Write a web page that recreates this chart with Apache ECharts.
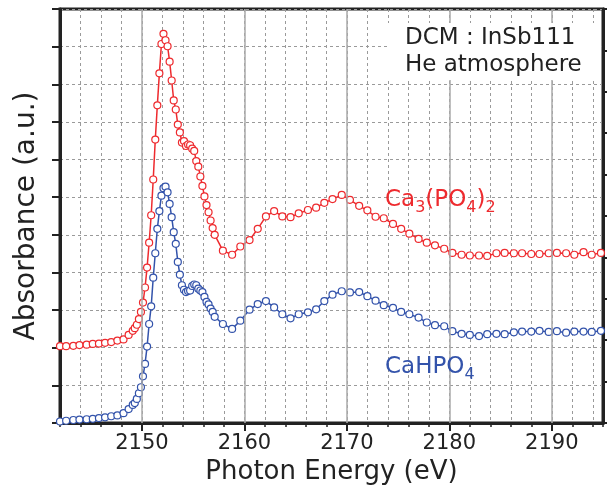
<!DOCTYPE html>
<html>
<head>
<meta charset="utf-8">
<script src="https://cdn.jsdelivr.net/npm/echarts@6/dist/echarts.min.js"></script>
<style>
  html, body { margin: 0; padding: 0; background: #fff; }
  #main { width: 607px; height: 490px; }
</style>
</head>
<body>
<div id="main"></div>
<script>
// photon energy (eV), shared by both spectra
var energy = [
  2142.0, 2142.6, 2143.3, 2143.9, 2144.6, 2145.2, 2145.8, 2146.4, 2147.0, 2147.6, 2148.2, 2148.7,
  2149.1, 2149.3, 2149.5, 2149.7, 2149.9, 2150.1, 2150.3, 2150.5, 2150.7, 2150.9,
  2151.1, 2151.3, 2151.5, 2151.7, 2151.9, 2152.1, 2152.3, 2152.5, 2152.7, 2152.9,
  2153.1, 2153.3, 2153.5, 2153.7, 2153.9, 2154.1, 2154.3, 2154.5, 2154.7, 2154.9,
  2155.1, 2155.3, 2155.5, 2155.7, 2155.9, 2156.1, 2156.3, 2156.5, 2156.7, 2156.9, 2157.1,
  2157.9, 2158.8, 2159.6, 2160.5, 2161.3, 2162.1, 2162.9, 2163.7, 2164.5, 2165.3,
  2166.2, 2167.0, 2167.8, 2168.6, 2169.5, 2170.3, 2171.2, 2172.0, 2172.8, 2173.6,
  2174.5, 2175.3, 2176.1, 2177.0, 2177.8, 2178.6, 2179.5, 2180.3, 2181.2, 2182.0,
  2182.9, 2183.7, 2184.6, 2185.4, 2186.3, 2187.1, 2188.0, 2188.8, 2189.7, 2190.5,
  2191.4, 2192.2, 2193.1, 2193.9, 2194.8
];

// Ca3(PO4)2 (offset upward)
var caPhosphate = [
  2.04, 2.04, 2.05, 2.07, 2.08, 2.10, 2.11, 2.13, 2.15, 2.19, 2.22, 2.34,
  2.45, 2.52, 2.61, 2.76, 2.95, 3.20, 3.60, 4.13, 4.79, 5.52,
  6.47, 7.53, 8.44, 9.29, 10.07, 10.34, 10.17, 10.01, 9.60, 9.10,
  8.57, 8.33, 7.93, 7.72, 7.45, 7.49, 7.36, 7.40, 7.38, 7.29,
  7.23, 6.96, 6.81, 6.55, 6.30, 6.02, 5.79, 5.60, 5.38, 5.18, 5.00,
  4.58, 4.47, 4.69, 4.86, 5.16, 5.49, 5.63, 5.49, 5.47, 5.57,
  5.66, 5.72, 5.85, 5.95, 6.06, 5.93, 5.77, 5.65, 5.48, 5.44,
  5.29, 5.16, 5.03, 4.89, 4.79, 4.72, 4.63, 4.52, 4.47, 4.45,
  4.45, 4.44, 4.51, 4.52, 4.51, 4.51, 4.49, 4.49, 4.51, 4.52,
  4.51, 4.47, 4.54, 4.47, 4.52
];

// CaHPO4
var caHydrogenPhosphate = [
  0.04, 0.06, 0.08, 0.09, 0.10, 0.11, 0.13, 0.15, 0.18, 0.20, 0.26, 0.37,
  0.48, 0.53, 0.64, 0.79, 0.95, 1.24, 1.57, 2.03, 2.63, 3.10,
  3.86, 4.51, 5.16, 5.63, 6.04, 6.24, 6.28, 6.13, 5.82, 5.47,
  5.07, 4.76, 4.28, 3.94, 3.66, 3.54, 3.48, 3.51, 3.52, 3.64,
  3.68, 3.66, 3.57, 3.52, 3.48, 3.35, 3.22, 3.15, 3.04, 2.95, 2.82,
  2.63, 2.50, 2.72, 3.01, 3.16, 3.24, 3.07, 2.89, 2.78, 2.89,
  2.94, 3.02, 3.24, 3.41, 3.50, 3.47, 3.48, 3.37, 3.25, 3.13,
  3.06, 2.95, 2.89, 2.80, 2.67, 2.60, 2.57, 2.44, 2.37, 2.34,
  2.31, 2.36, 2.37, 2.36, 2.41, 2.43, 2.43, 2.45, 2.42, 2.44,
  2.40, 2.43, 2.43, 2.42, 2.45
];

var majorTicks = [2150, 2160, 2170, 2180, 2190];

var RED = '#ee2a2e';
var BLUE = '#3353ab';
var FONT = 'DejaVu Sans';
var INK = '#222';

function pairs(ys) {
  return energy.map(function (e, i) { return [e, ys[i]]; });
}

// chemical formula with subscripts as rich text
function formulaStyle(color) {
  return {
    m: { fontSize: 23, lineHeight: 28, fontFamily: FONT, fill: color, verticalAlign: 'top' },
    s: { fontSize: 16, lineHeight: 16, fontFamily: FONT, fill: color, verticalAlign: 'top', padding: [11, 0, 0, 0] }
  };
}

var chart = echarts.init(document.getElementById('main'));

var option = {
  animation: false,
  backgroundColor: '#fff',
  grid: {
    left: 60, right: 4, top: 9, bottom: 66,
    show: true, borderColor: INK, borderWidth: 3
  },
  xAxis: [
    {
      type: 'value', min: 2142, max: 2195, interval: 2, position: 'bottom',
      axisLine: { show: true, lineStyle: { color: INK, width: 3 } },
      axisTick: { show: true, length: 4, lineStyle: { color: INK, width: 1.5 } },
      axisLabel: {
        margin: 10, fontSize: 21, color: INK, fontFamily: FONT,
        formatter: function (v) { return majorTicks.indexOf(v) >= 0 ? String(v) : ''; }
      },
      splitLine: { show: true, lineStyle: { type: [3, 3], color: '#9a9a9a', width: 1 } },
      name: 'Photon Energy (eV)', nameLocation: 'middle', nameGap: 36,
      nameTextStyle: { fontSize: 26, color: INK, fontFamily: FONT }
    },
    {
      type: 'value', min: 2142, max: 2195, interval: 2, position: 'bottom',
      axisLine: { show: false },
      axisTick: { show: true, customValues: majorTicks, length: 8, lineStyle: { color: INK, width: 2 } },
      axisLabel: { show: false },
      splitLine: { show: false }
    }
  ],
  yAxis: [
    {
      type: 'value', min: 0, max: 11, interval: 1, position: 'left',
      axisLine: { show: true, lineStyle: { color: INK, width: 3 } },
      axisTick: { show: true, length: 8, lineStyle: { color: INK, width: 2 } },
      axisLabel: { show: false },
      splitLine: { show: true, lineStyle: { type: [3, 3], color: '#9a9a9a', width: 1 } },
      name: 'Absorbance (a.u.)', nameLocation: 'middle', nameGap: 19,
      nameTextStyle: { fontSize: 28, color: INK, fontFamily: FONT }
    },
    {
      type: 'value', min: 0, max: 10, interval: 1, position: 'right',
      axisLine: { show: true, lineStyle: { color: INK, width: 3 } },
      axisTick: { show: true, length: 4, lineStyle: { color: INK, width: 2 } },
      axisLabel: { show: false },
      splitLine: { show: false }
    }
  ],
  series: [
    {
      // solid grid lines at the labelled energies
      type: 'line', data: [], z: 1, silent: true,
      markLine: {
        silent: true, symbol: 'none', label: { show: false },
        lineStyle: { type: 'solid', color: '#aaaaaa', width: 1.5 },
        data: majorTicks.map(function (v) { return { xAxis: v }; })
      }
    },
    {
      name: 'CaHPO4', type: 'line', data: pairs(caHydrogenPhosphate),
      showAllSymbol: true, symbol: 'circle', symbolSize: 7,
      itemStyle: { color: '#fff', borderColor: BLUE, borderWidth: 1.2 },
      lineStyle: { color: BLUE, width: 1.5 }, z: 3
    },
    {
      name: 'Ca3(PO4)2', type: 'line', data: pairs(caPhosphate),
      showAllSymbol: true, symbol: 'circle', symbolSize: 7,
      itemStyle: { color: '#fff', borderColor: RED, borderWidth: 1.2 },
      lineStyle: { color: RED, width: 1.5 }, z: 4
    }
  ],
  graphic: [
    {
      type: 'rect', z: 50, silent: true,
      shape: { x: 387, y: 23, width: 214, height: 57 },
      style: { fill: '#fff' }
    },
    {
      type: 'text', z: 51, x: 405, y: 38,
      style: { text: 'DCM : InSb111', font: '23px "DejaVu Sans"', fill: INK, verticalAlign: 'middle' }
    },
    {
      type: 'text', z: 51, x: 405, y: 65,
      style: { text: 'He atmosphere', font: '23px "DejaVu Sans"', fill: INK, verticalAlign: 'middle' }
    },
    {
      type: 'text', z: 51, x: 385, y: 189,
      style: { text: '{m|Ca}{s|3}{m|(PO}{s|4}{m|)}{s|2}', verticalAlign: 'top', rich: formulaStyle(RED) }
    },
    {
      type: 'text', z: 51, x: 385, y: 356,
      style: { text: '{m|CaHPO}{s|4}', verticalAlign: 'top', rich: formulaStyle(BLUE) }
    }
  ]
};

chart.setOption(option);
</script>
</body>
</html>
